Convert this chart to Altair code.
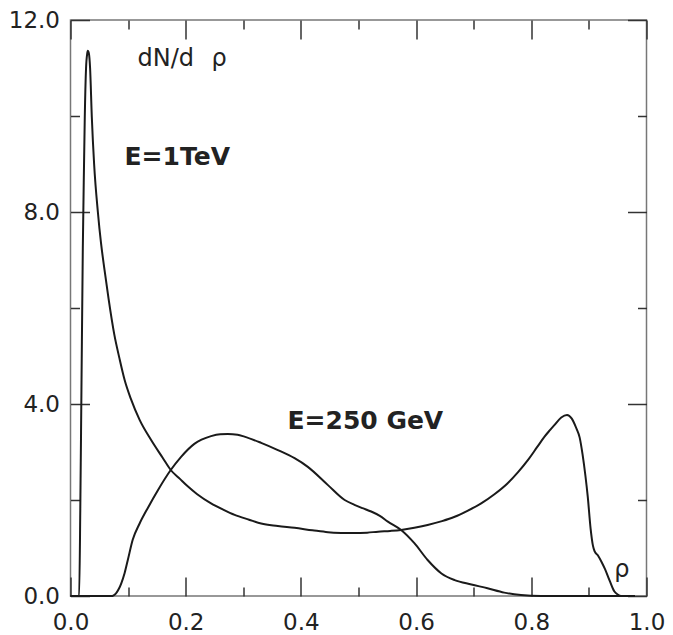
import altair as alt
import pandas as pd

# ---- data ----
tev_x = [0.0, 0.015, 0.017, 0.019, 0.0214, 0.0235, 0.0248, 0.027, 0.029, 0.030, 0.032, 0.034, 0.037, 0.041,
         0.0475, 0.053, 0.059, 0.066, 0.076, 0.085, 0.094, 0.105, 0.12, 0.14, 0.16, 0.174, 0.19, 0.204, 0.22,
         0.244, 0.265, 0.285, 0.31, 0.331, 0.36, 0.389, 0.42, 0.447, 0.47, 0.493, 0.515, 0.534, 0.555, 0.574,
         0.597, 0.62, 0.645, 0.667, 0.69, 0.713, 0.736, 0.759, 0.777, 0.794, 0.81, 0.823, 0.832, 0.84, 0.852,
         0.862, 0.87, 0.878, 0.884, 0.889, 0.894, 0.898, 0.903, 0.907, 0.91, 0.916, 0.922, 0.928, 0.936, 0.944,
         0.95, 0.956, 0.98]
tev_y = [0.0, 0.0, 1.8, 4.3, 7.27, 9.0, 9.98, 11.0, 11.3, 11.36, 11.3, 11.0, 9.98, 9.0,
         8.0, 7.35, 6.8, 6.2, 5.45, 4.95, 4.5, 4.1, 3.67, 3.25, 2.88, 2.625, 2.44, 2.28, 2.12,
         1.93, 1.8, 1.69, 1.59, 1.51, 1.46, 1.42, 1.37, 1.33, 1.315, 1.31, 1.32, 1.34, 1.355, 1.375,
         1.42, 1.48, 1.56, 1.65, 1.78, 1.93, 2.12, 2.35, 2.58, 2.83, 3.1, 3.32, 3.45, 3.56, 3.72,
         3.77, 3.7, 3.5, 3.3, 2.95, 2.5, 2.07, 1.4, 1.05, 0.93, 0.84, 0.71, 0.56, 0.32, 0.1,
         0.03, 0.0, 0.0]

gev_x = [0.0, 0.066, 0.0706, 0.075, 0.079, 0.084, 0.088, 0.094, 0.0995, 0.108, 0.12, 0.134, 0.152, 0.174,
         0.192, 0.215, 0.244, 0.26, 0.273, 0.29, 0.302, 0.331, 0.36, 0.389, 0.412, 0.447, 0.476, 0.493,
         0.507, 0.522, 0.537, 0.551, 0.574, 0.597, 0.62, 0.644, 0.667, 0.696, 0.724, 0.753, 0.782, 0.817,
         0.9, 0.97]
gev_y = [0.0, 0.0, 0.0, 0.015, 0.056, 0.15, 0.26, 0.48, 0.75, 1.17, 1.51, 1.83, 2.21, 2.625,
         2.9, 3.17, 3.33, 3.37, 3.375, 3.36, 3.32, 3.19, 3.04, 2.87, 2.69, 2.31, 2.0, 1.9,
         1.83, 1.76, 1.67, 1.55, 1.375, 1.1, 0.75, 0.47, 0.33, 0.24, 0.16, 0.07, 0.02, 0.0,
         0.0, 0.0]

x_major = [0.0, 0.2, 0.4, 0.6, 0.8, 1.0]
x_minor = [0.1, 0.3, 0.5, 0.7, 0.9]
y_major = [0.0, 4.0, 8.0, 12.0]
y_minor = [2.0, 6.0, 10.0]

note_text = ["dN/d", "ρ", "ρ"]
note_x = [0.1163, 0.2448, 0.944]
note_y = [11.04, 11.04, 0.396]

bold_text = ["E=1TeV", "E=250 GeV"]
bold_x = [0.0938, 0.3767]
bold_y = [8.98, 3.48]

# ---- tables ----
df = pd.concat([
    pd.DataFrame({"x": tev_x, "y": tev_y, "series": "E=1TeV"}),
    pd.DataFrame({"x": gev_x, "y": gev_y, "series": "E=250 GeV"}),
], ignore_index=True)
notes = pd.DataFrame({"x": note_x, "y": note_y, "t": note_text})
bolds = pd.DataFrame({"x": bold_x, "y": bold_y, "t": bold_text})

FONT = "DejaVu Sans"
INK = "#1a1a1a"
xs = alt.Scale(domain=[0, 1], nice=False, zero=False)
ys = alt.Scale(domain=[0, 12], nice=False, zero=False)


def ax(orient, values, size, labels=False, pad=0):
    kw = dict(orient=orient, values=values, tickSize={"expr": str(-size)},
              labels=labels, title=None, domain=False, grid=False,
              tickColor="#333", tickWidth=1.5)
    if labels:
        kw.update(format=".1f", labelFont=FONT, labelFontSize=23, labelColor="#222",
                  labelPadding=pad, labelFlush=False, labelOverlap=False)
    return alt.Axis(**kw)


lines = alt.Chart(df).mark_line(interpolate="monotone", strokeWidth=2, color=INK).encode(
    x=alt.X("x:Q", scale=xs, axis=ax("bottom", x_major, 19, True, 34)),
    y=alt.Y("y:Q", scale=ys, axis=ax("left", y_major, 19, True, 30)),
    detail="series:N",
)


def ghost(xa, ya):
    return alt.Chart(df).mark_line(opacity=0).encode(
        x=alt.X("x:Q", scale=xs, axis=xa),
        y=alt.Y("y:Q", scale=ys, axis=ya),
        detail="series:N",
    )


g1 = ghost(ax("bottom", x_minor, 9), ax("left", y_minor, 9))
g2 = ghost(ax("top", x_major, 19), ax("right", y_major, 19))
g3 = ghost(ax("top", x_minor, 9), ax("right", y_minor, 9))

txt = alt.Chart(notes).mark_text(align="left", baseline="alphabetic", font=FONT,
                                 fontSize=24, color="#222").encode(
    x=alt.X("x:Q", scale=xs, axis=None),
    y=alt.Y("y:Q", scale=ys, axis=None),
    text="t:N",
)
btxt = alt.Chart(bolds).mark_text(align="left", baseline="alphabetic", font=FONT,
                                  fontSize=25, fontWeight="bold", color="#222").encode(
    x=alt.X("x:Q", scale=xs, axis=None),
    y=alt.Y("y:Q", scale=ys, axis=None),
    text="t:N",
)

chart = alt.layer(lines, g1, g2, g3, txt, btxt).resolve_axis(
    x="independent", y="independent"
).properties(
    width=576, height=576,
    autosize=alt.AutoSizeParams(type="none"),
    padding={"left": 62.5, "top": 12, "right": 18.5, "bottom": 40},
    background="white",
).configure_view(stroke="#777", strokeWidth=1.5)

chart.save("out.html", embed_options={"renderer": "svg", "actions": False})
